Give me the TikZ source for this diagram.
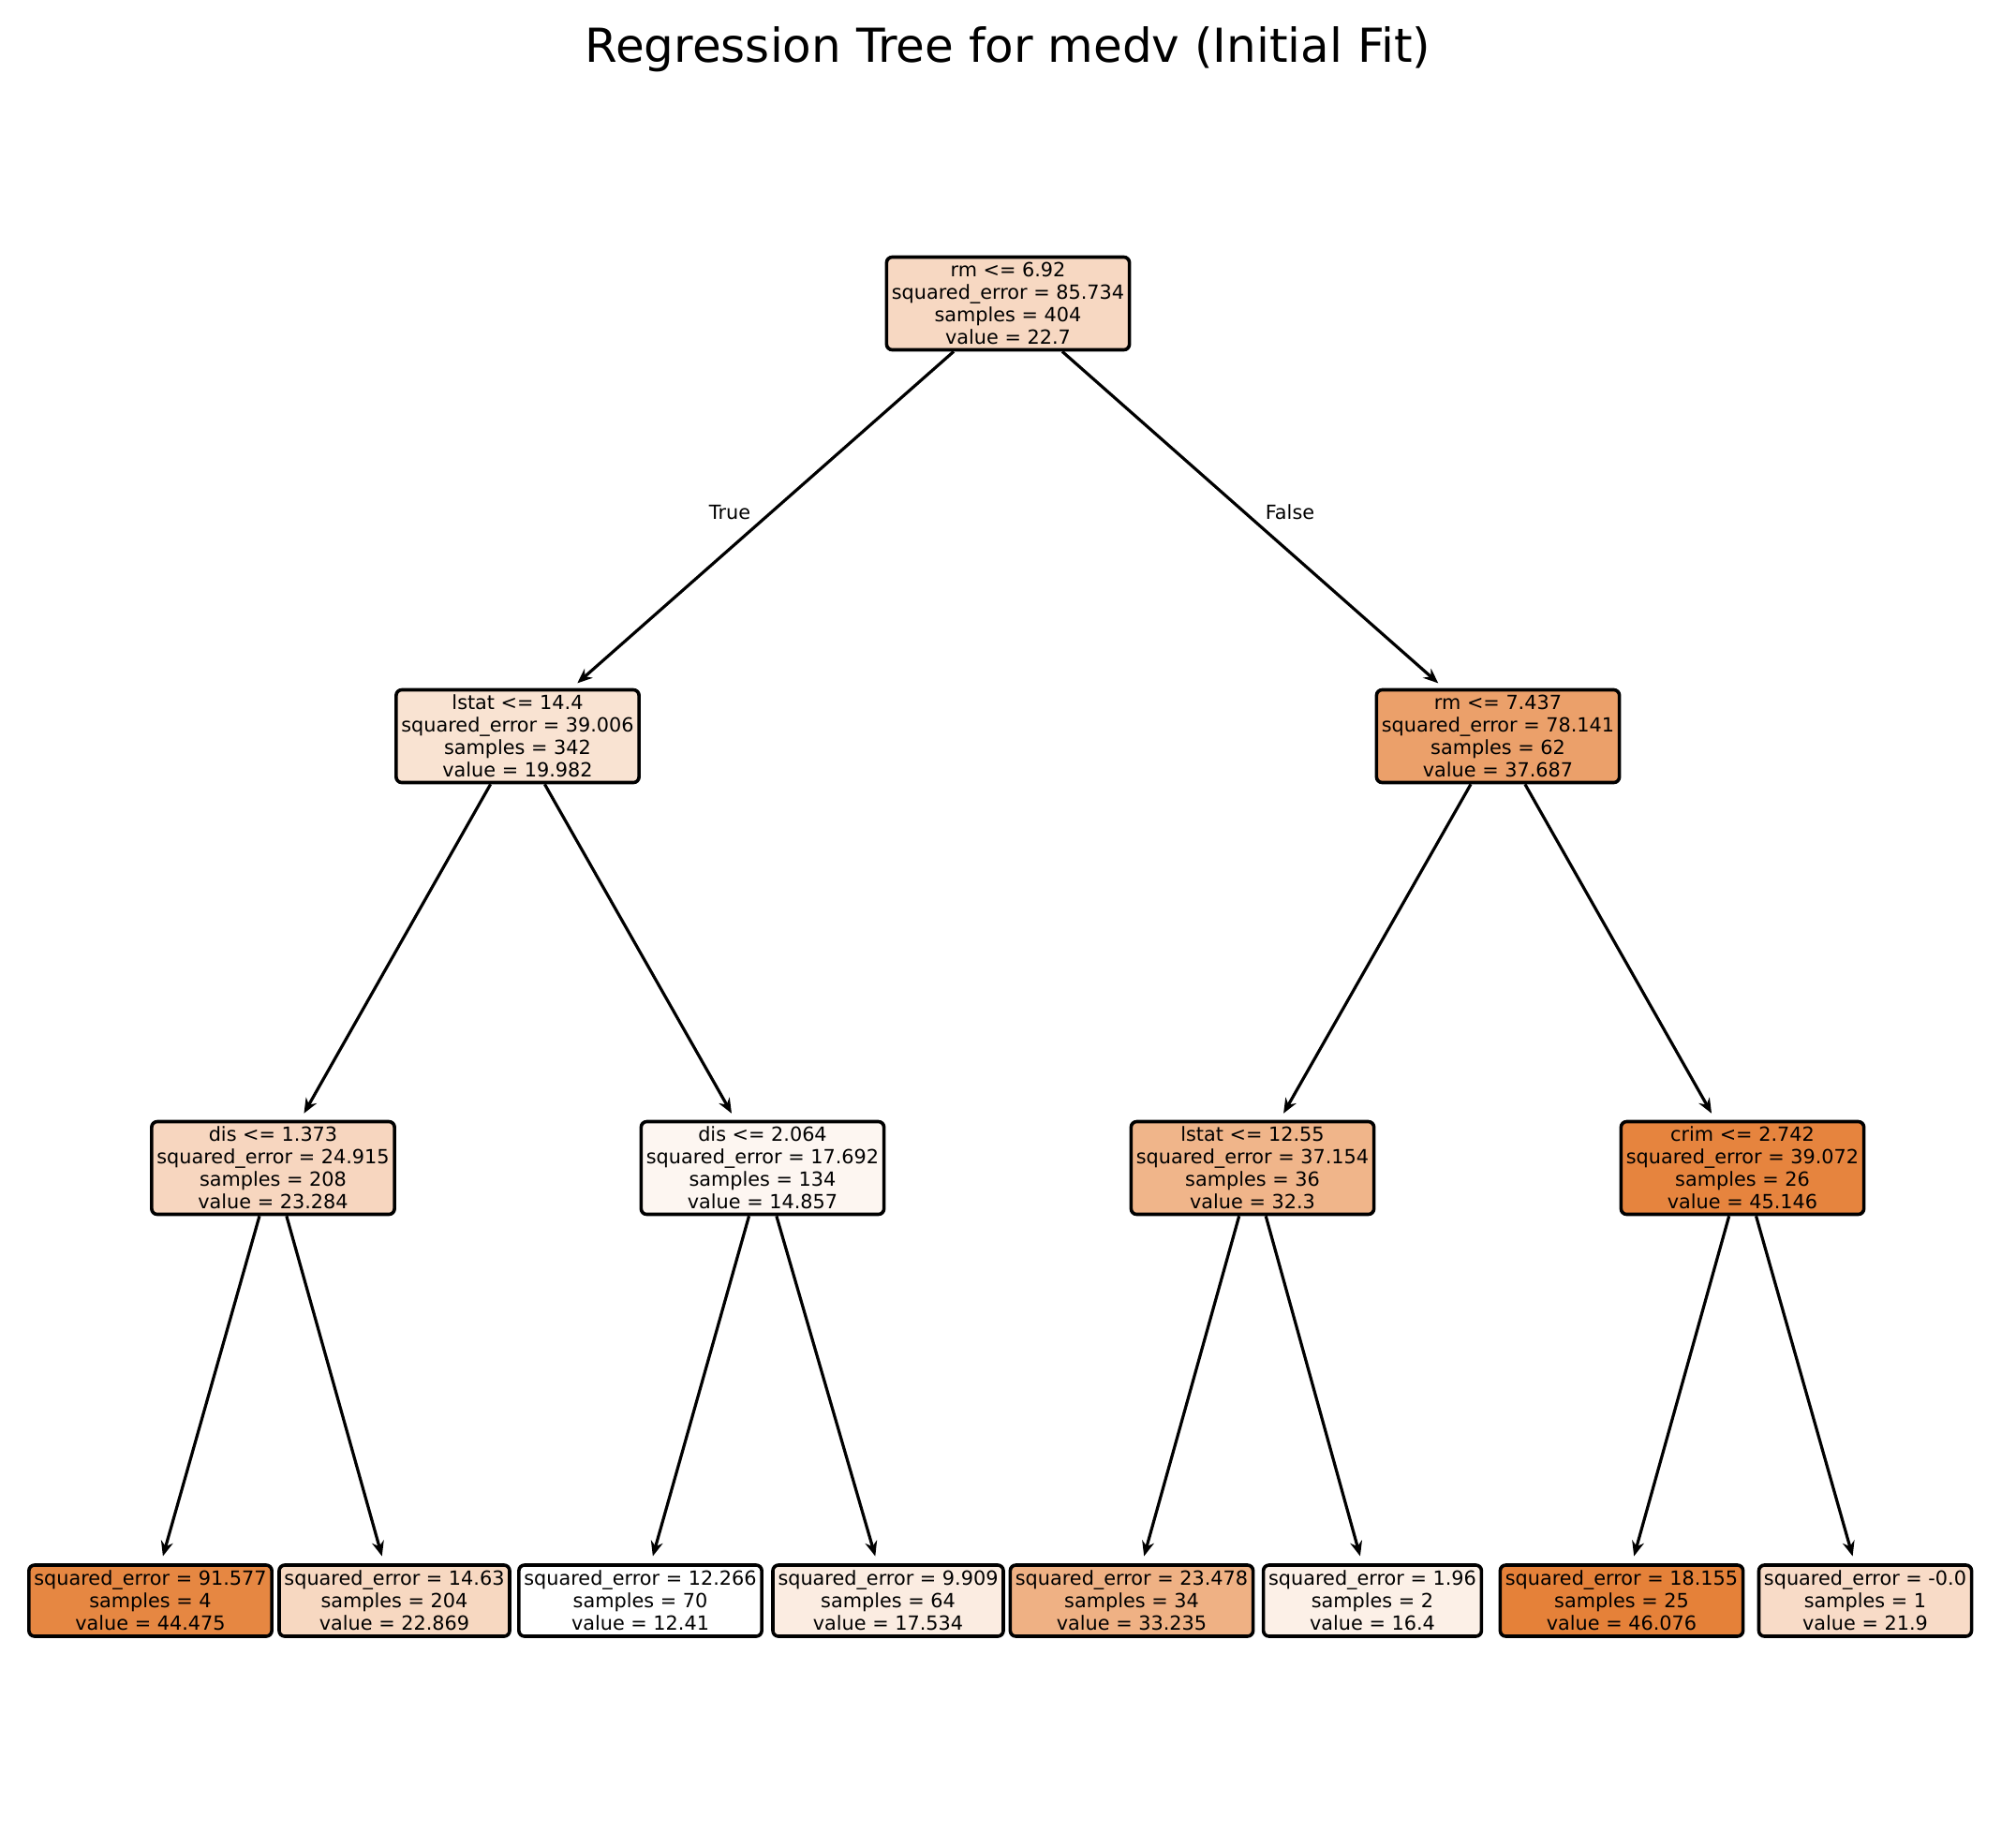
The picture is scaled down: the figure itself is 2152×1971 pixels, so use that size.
\documentclass[tikz,border=0pt]{standalone}
\usepackage{fontspec}
\setmainfont{DejaVu Sans}
\usetikzlibrary{arrows.meta}
\definecolor{cA}{RGB}{247,216,194}
\definecolor{cB}{RGB}{249,227,210}
\definecolor{cC}{RGB}{235,160,106}
\definecolor{cD}{RGB}{247,214,191}
\definecolor{cE}{RGB}{253,246,241}
\definecolor{cF}{RGB}{240,181,138}
\definecolor{cG}{RGB}{230,132,62}
\definecolor{cH}{RGB}{230,135,66}
\definecolor{cI}{RGB}{247,216,193}
\definecolor{cJ}{RGB}{255,255,255}
\definecolor{cK}{RGB}{251,236,225}
\definecolor{cL}{RGB}{239,177,132}
\definecolor{cM}{RGB}{252,240,231}
\definecolor{cN}{RGB}{229,129,57}
\definecolor{cO}{RGB}{248,219,199}
\begin{document}
\begin{tikzpicture}[x=1pt,y=-1pt,
  tn/.style={draw=black, line width=3.6pt, rounded corners=6pt, align=center,
    inner xsep=5.5pt, inner ysep=0pt, font=\fontsize{20.8}{24}\selectfont},
  splitbox/.style={tn, minimum height=99pt},
  leafbox/.style={tn, minimum height=76pt},
  conn/.style={-{Stealth[length=16pt,width=13pt]}, line width=3.2pt, shorten >=8pt},
  lab/.style={font=\fontsize{20.8}{24}\selectfont, inner sep=0pt}]
\fill[white] (0,0) rectangle (2152,1971);
\useasboundingbox (0,0) rectangle (2152,1971);

\node[font=\fontsize{50}{58}\selectfont, anchor=base, inner sep=0pt] (title) at (1076,66) {Regression Tree for medv (Initial Fit)};

\node[splitbox, fill=cA] (root) at (1076,324) {rm <= 6.92\\squared\_error = 85.734\\samples = 404\\value = 22.7};
\node[splitbox, fill=cB] (l) at (552.5,786) {lstat <= 14.4\\squared\_error = 39.006\\samples = 342\\value = 19.982};
\node[splitbox, fill=cC] (r) at (1599,786) {rm <= 7.437\\squared\_error = 78.141\\samples = 62\\value = 37.687};

\node[splitbox, fill=cD] (ll) at (291.5,1247) {dis <= 1.373\\squared\_error = 24.915\\samples = 208\\value = 23.284};
\node[splitbox, fill=cE] (lr) at (814,1247) {dis <= 2.064\\squared\_error = 17.692\\samples = 134\\value = 14.857};
\node[splitbox, fill=cF] (rl) at (1337,1247) {lstat <= 12.55\\squared\_error = 37.154\\samples = 36\\value = 32.3};
\node[splitbox, fill=cG] (rr) at (1860,1247) {crim <= 2.742\\squared\_error = 39.072\\samples = 26\\value = 45.146};

\node[leafbox, fill=cH] (lll) at (160.5,1709) {squared\_error = 91.577\\samples = 4\\value = 44.475};
\node[leafbox, fill=cI] (llr) at (421,1709) {squared\_error = 14.63\\samples = 204\\value = 22.869};
\node[leafbox, fill=cJ] (lrl) at (683.5,1709) {squared\_error = 12.266\\samples = 70\\value = 12.41};
\node[leafbox, fill=cK] (lrr) at (948,1709) {squared\_error = 9.909\\samples = 64\\value = 17.534};
\node[leafbox, fill=cL] (rll) at (1208,1709) {squared\_error = 23.478\\samples = 34\\value = 33.235};
\node[leafbox, fill=cM] (rlr) at (1465,1709) {squared\_error = 1.96\\samples = 2\\value = 16.4};
\node[leafbox, fill=cN] (rrl) at (1731,1709) {squared\_error = 18.155\\samples = 25\\value = 46.076};
\node[leafbox, fill=cO] (rrr) at (1991,1709) {squared\_error = -0.0\\samples = 1\\value = 21.9};

\draw[conn] (root) -- (l);
\draw[conn] (root) -- (r);
\draw[conn] (l) -- (ll);
\draw[conn] (l) -- (lr);
\draw[conn] (r) -- (rl);
\draw[conn] (r) -- (rr);
\draw[conn] (ll) -- (lll);
\draw[conn] (ll) -- (llr);
\draw[conn] (lr) -- (lrl);
\draw[conn] (lr) -- (lrr);
\draw[conn] (rl) -- (rll);
\draw[conn] (rl) -- (rlr);
\draw[conn] (rr) -- (rrl);
\draw[conn] (rr) -- (rrr);

\node[lab] (tlab) at (779,547) {True};
\node[lab] (flab) at (1377,547) {False};
\end{tikzpicture}
\end{document}
